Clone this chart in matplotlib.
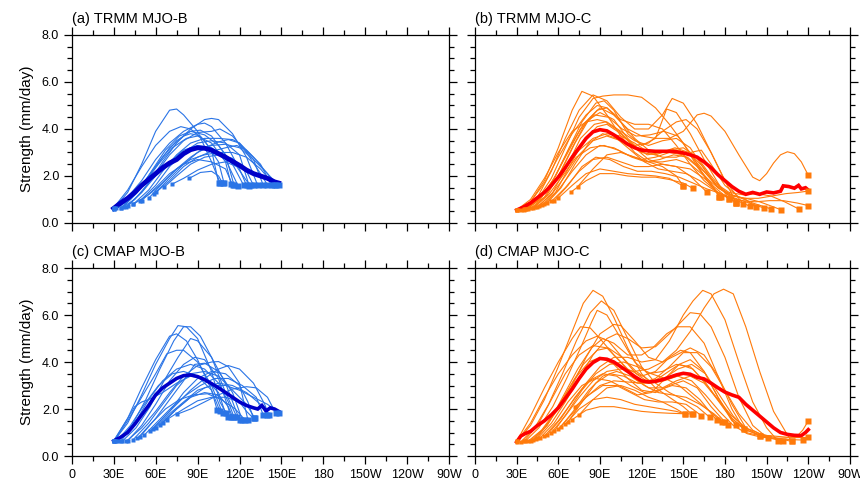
import matplotlib.pyplot as plt
import numpy as np

plt.rcParams['font.family'] = ['Liberation Sans', 'DejaVu Sans']

# longitude axis (degrees east of 0)
lon_ticks = [0, 30, 60, 90, 120, 150, 180, 210, 240, 270]
lon_labels = ['0', '30E', '60E', '90E', '120E', '150E', '180', '150W', '120W', '90W']
y_ticks = [0, 2, 4, 6, 8]
y_labels = ['0.0', '2.0', '4.0', '6.0', '8.0']

titles = ['(a) TRMM MJO-B', '(b) TRMM MJO-C', '(c) CMAP MJO-B', '(d) CMAP MJO-C']

# ---- composite means -------------------------------------------------------
trmm_b_mean_lon = [30, 35, 40, 45, 50, 55, 60, 65, 70, 75, 80, 85, 90, 95, 100, 105,
                   110, 115, 120, 125, 130, 135, 140, 145, 148]
trmm_b_mean = [0.62, 0.85, 1.05, 1.3, 1.6, 1.85, 2.1, 2.35, 2.55, 2.7, 2.95, 3.12, 3.2,
               3.18, 3.1, 2.95, 2.8, 2.62, 2.45, 2.25, 2.1, 2.0, 1.9, 1.75, 1.7]

trmm_c_mean_lon = [30, 35, 40, 45, 50, 55, 60, 65, 70, 75, 80, 85, 90, 95, 100, 105, 110,
                   115, 120, 125, 130, 135, 140, 145, 150, 155, 160, 165, 170, 175, 180,
                   185, 190, 195, 200, 205, 210, 215, 220, 222, 226, 230, 233, 235, 238, 240]
trmm_c_mean = [0.55, 0.68, 0.85, 1.08, 1.3, 1.6, 1.95, 2.35, 2.8, 3.2, 3.6, 3.88, 3.97,
               3.92, 3.75, 3.55, 3.35, 3.2, 3.1, 3.07, 3.05, 3.05, 3.05, 3.03, 2.98, 2.9,
               2.8, 2.6, 2.35, 2.05, 1.8, 1.55, 1.35, 1.22, 1.3, 1.22, 1.32, 1.28, 1.35,
               1.58, 1.55, 1.48, 1.6, 1.45, 1.5, 1.4]

cmap_b_mean_lon = [30, 35, 40, 45, 50, 55, 60, 65, 70, 75, 80, 85, 90, 95, 100, 105, 110,
                   115, 120, 125, 130, 133, 136, 139, 142, 145, 148]
cmap_b_mean = [0.64, 0.8, 1.0, 1.35, 1.75, 2.15, 2.6, 2.9, 3.1, 3.3, 3.42, 3.45, 3.38,
               3.25, 3.08, 2.9, 2.7, 2.5, 2.3, 2.15, 2.05, 2.0, 2.15, 1.92, 2.05, 2.0, 1.9]

cmap_c_mean_lon = [30, 33, 36, 40, 45, 50, 55, 60, 65, 70, 75, 80, 85, 90, 95, 100, 105,
                   110, 115, 120, 125, 130, 135, 140, 145, 150, 155, 160, 165, 170, 175,
                   180, 185, 190, 195, 200, 205, 210, 215, 220, 225, 230, 235, 238, 240]
cmap_c_mean = [0.6, 0.85, 0.95, 1.05, 1.3, 1.5, 1.75, 2.05, 2.45, 2.85, 3.3, 3.7, 3.98,
               4.15, 4.12, 4.0, 3.8, 3.6, 3.38, 3.2, 3.15, 3.18, 3.25, 3.35, 3.45, 3.52,
               3.48, 3.35, 3.28, 3.1, 2.9, 2.72, 2.6, 2.5, 2.2, 1.95, 1.7, 1.45, 1.2, 1.0,
               0.92, 0.88, 0.87, 1.0, 1.12]

# ---- individual events: (longitude, strength) along each track --------------
trmm_b_events = [
    [(30, 0.6), (40, 1.3), (50, 2.5), (60, 3.9), (70, 4.8), (75, 4.85), (80, 4.6), (90, 3.9), (100, 2.6), (106, 1.72)],
    [(30, 0.62), (40, 1.1), (50, 1.8), (60, 2.7), (70, 3.4), (80, 3.9), (90, 4.2), (95, 4.25), (100, 4.1), (110, 3.4), (120, 2.3), (125, 1.6)],
    [(35, 0.62), (45, 1.0), (55, 1.7), (65, 2.6), (75, 3.4), (85, 4.0), (95, 4.4), (100, 4.45), (105, 4.4), (115, 3.8), (125, 2.8), (133, 1.6)],
    [(30, 0.65), (40, 1.4), (50, 2.4), (60, 3.3), (70, 3.9), (78, 4.1), (85, 4.0), (95, 3.5), (105, 2.6), (109, 1.68)],
    [(39, 0.7), (50, 1.3), (60, 2.1), (70, 2.9), (80, 3.5), (90, 3.85), (100, 3.9), (106, 4.0), (115, 3.7), (125, 3.0), (135, 2.1), (140, 1.62)],
    [(44, 0.8), (55, 1.4), (65, 2.2), (75, 2.9), (85, 3.4), (95, 3.6), (105, 3.6), (115, 3.55), (120, 3.4), (130, 2.8), (140, 2.1), (146, 1.6)],
    [(49, 0.95), (60, 1.6), (70, 2.4), (80, 3.0), (90, 3.4), (100, 3.5), (110, 3.4), (120, 2.9), (127, 1.57)],
    [(59, 1.24), (70, 1.8), (80, 2.4), (90, 2.8), (100, 3.05), (110, 3.2), (118, 3.3), (125, 3.1), (135, 2.5), (143, 1.6)],
    [(66, 1.52), (75, 2.0), (85, 2.5), (95, 2.8), (105, 2.9), (115, 2.75), (125, 2.2), (130, 1.6)],
    [(72, 1.66), (80, 1.9), (90, 2.25), (100, 2.5), (110, 2.6), (118, 2.4), (125, 1.8), (128, 1.6)],
    [(84, 1.9), (92, 2.15), (100, 2.2), (105, 2.0), (108, 1.68)],
    [(35, 0.62), (45, 1.2), (55, 2.0), (65, 2.8), (75, 3.5), (85, 3.9), (92, 3.95), (100, 3.7), (110, 2.9), (116, 1.62)],
    [(40, 0.72), (50, 1.3), (60, 2.0), (70, 2.6), (80, 3.1), (90, 3.3), (100, 3.2), (110, 2.7), (119, 1.58)],
    [(30, 0.6), (40, 1.0), (50, 1.6), (60, 2.4), (70, 3.2), (80, 3.7), (85, 3.8), (92, 3.7), (100, 3.1), (105, 1.72)],
    [(44, 0.8), (55, 1.2), (65, 1.7), (75, 2.3), (85, 2.7), (95, 2.9), (105, 3.0), (115, 3.0), (125, 2.8), (135, 2.3), (145, 1.6)],
    [(50, 0.95), (60, 1.5), (70, 2.1), (80, 2.5), (90, 2.7), (100, 2.6), (110, 2.3), (115, 1.62)],
    [(37, 0.7), (47, 1.3), (57, 2.2), (67, 3.1), (77, 3.7), (85, 3.9), (95, 3.75), (105, 3.3), (115, 2.5), (123, 1.6)],
    [(55, 1.05), (65, 1.7), (75, 2.3), (85, 2.8), (95, 3.2), (105, 3.45), (112, 3.55), (120, 3.4), (130, 2.7), (137, 1.6)],
    [(60, 1.3), (70, 1.9), (80, 2.5), (90, 3.0), (100, 3.3), (110, 3.35), (120, 3.2), (130, 2.7), (140, 2.1), (148, 1.6)],
    [(32, 0.62), (42, 1.0), (52, 1.7), (62, 2.5), (72, 3.2), (82, 3.6), (90, 3.7), (100, 3.4), (110, 2.6), (114, 1.65)],
]

trmm_c_events = [
    [(30, 0.55), (40, 0.9), (50, 1.8), (60, 3.2), (70, 4.8), (77, 5.6), (85, 5.4), (95, 4.6), (105, 3.7), (115, 3.0), (125, 2.6), (135, 2.4), (145, 2.0), (150, 1.57)],
    [(33, 0.55), (45, 1.0), (55, 1.9), (65, 3.2), (75, 4.5), (85, 5.3), (92, 5.4), (100, 5.45), (110, 5.45), (120, 5.35), (130, 4.9), (140, 4.2), (150, 3.4), (160, 2.4), (170, 1.6), (177, 1.12)],
    [(35, 0.58), (45, 1.1), (55, 2.2), (65, 3.6), (75, 4.8), (85, 5.45), (95, 5.2), (105, 4.5), (115, 4.0), (125, 4.0), (135, 4.6), (142, 5.3), (150, 5.1), (160, 4.2), (170, 3.0), (180, 1.8), (188, 0.87)],
    [(37, 0.6), (47, 1.0), (57, 1.9), (67, 3.1), (77, 4.3), (87, 5.1), (93, 5.2), (100, 4.8), (110, 3.8), (120, 3.3), (130, 3.6), (138, 4.85), (145, 4.7), (155, 3.8), (165, 2.7), (175, 1.7), (183, 1.02)],
    [(40, 0.62), (50, 1.1), (60, 2.0), (70, 3.2), (80, 4.3), (90, 4.9), (100, 4.6), (110, 4.0), (120, 3.7), (130, 3.6), (140, 3.6), (150, 3.9), (160, 4.6), (165, 4.67), (170, 4.55), (180, 3.9), (190, 2.9), (200, 1.95), (205, 1.8), (210, 2.1), (215, 2.55), (220, 2.9), (225, 3.03), (230, 2.95), (235, 2.6), (240, 2.03)],
    [(42, 0.65), (52, 1.2), (62, 2.2), (72, 3.4), (82, 4.4), (90, 4.7), (100, 4.4), (110, 3.6), (120, 3.0), (130, 2.9), (140, 3.1), (150, 3.2), (160, 2.8), (170, 2.0), (180, 1.3), (188, 0.87)],
    [(45, 0.7), (55, 1.2), (65, 2.0), (75, 2.9), (85, 3.5), (95, 3.7), (105, 3.5), (115, 3.3), (125, 3.4), (135, 3.9), (145, 4.3), (152, 4.4), (160, 4.0), (170, 3.0), (180, 1.8), (193, 0.82)],
    [(48, 0.75), (58, 1.3), (68, 2.4), (78, 3.5), (88, 4.1), (95, 4.2), (105, 3.8), (115, 3.2), (125, 2.7), (135, 2.5), (145, 2.4), (155, 2.3), (165, 1.9), (175, 1.4), (183, 1.02)],
    [(50, 0.8), (60, 1.4), (70, 2.2), (80, 2.9), (90, 3.3), (100, 3.2), (110, 2.9), (120, 2.7), (130, 2.8), (140, 3.0), (150, 2.9), (160, 2.4), (170, 1.7), (176, 1.12)],
    [(55, 0.92), (65, 1.5), (75, 2.2), (85, 2.7), (95, 2.8), (105, 2.6), (115, 2.4), (125, 2.4), (135, 2.5), (145, 2.4), (155, 2.0), (167, 1.31)],
    [(60, 1.06), (70, 1.6), (80, 2.1), (90, 2.3), (100, 2.2), (110, 2.1), (120, 2.05), (130, 2.0), (140, 1.9), (150, 1.57)],
    [(69, 1.31), (80, 1.8), (90, 2.1), (100, 2.1), (110, 2.0), (120, 1.95), (130, 1.95), (140, 1.85), (150, 1.7), (157, 1.47)],
    [(74, 1.55), (85, 2.3), (95, 2.9), (105, 3.0), (115, 2.8), (125, 2.6), (135, 2.6), (145, 2.7), (155, 2.5), (165, 2.0), (175, 1.5), (185, 1.2), (195, 1.0), (202, 0.67)],
    [(30, 0.55), (40, 1.0), (50, 1.9), (60, 3.0), (70, 3.9), (80, 4.3), (88, 4.4), (95, 4.3), (105, 3.9), (115, 3.5), (125, 3.3), (135, 3.5), (145, 3.6), (155, 3.2), (165, 2.3), (175, 1.5), (185, 1.1), (195, 0.9), (208, 0.64)],
    [(35, 0.55), (45, 0.95), (55, 1.6), (65, 2.4), (75, 3.1), (85, 3.6), (95, 3.8), (105, 3.7), (115, 3.4), (125, 3.0), (135, 2.8), (145, 2.8), (155, 3.0), (163, 3.1), (170, 2.5), (180, 1.6), (190, 1.1), (200, 0.85), (213, 0.6)],
    [(38, 0.6), (48, 1.1), (58, 2.0), (68, 3.2), (78, 4.2), (88, 4.8), (95, 4.9), (105, 4.3), (115, 3.6), (125, 3.1), (135, 3.0), (145, 3.1), (155, 2.9), (165, 2.2), (175, 1.5), (185, 1.15), (195, 1.05), (205, 0.9), (212, 0.75), (220, 0.57)],
    [(43, 0.68), (53, 1.2), (63, 2.0), (73, 2.8), (83, 3.2), (93, 3.3), (103, 3.1), (113, 2.8), (123, 2.6), (133, 2.7), (143, 2.9), (153, 2.8), (163, 2.3), (173, 1.7), (183, 1.3), (193, 1.2), (203, 1.25), (213, 1.15), (223, 0.9), (233, 0.6)],
    [(46, 0.72), (56, 1.3), (66, 2.4), (76, 3.6), (86, 4.2), (94, 4.3), (104, 3.9), (114, 3.3), (124, 2.9), (134, 3.0), (144, 3.2), (154, 3.0), (164, 2.4), (174, 1.6), (184, 1.2), (194, 1.05), (204, 1.05), (214, 1.15), (224, 1.25), (233, 1.3), (240, 1.36)],
    [(52, 0.85), (62, 1.5), (72, 2.5), (82, 3.4), (92, 3.8), (102, 3.6), (112, 3.1), (122, 2.6), (132, 2.3), (142, 2.2), (152, 2.1), (162, 1.8), (172, 1.4), (182, 1.1), (192, 0.95), (202, 0.9), (212, 0.95), (222, 0.95), (232, 0.85), (240, 0.74)],
    [(57, 0.95), (67, 1.6), (77, 2.4), (87, 2.8), (97, 2.7), (107, 2.4), (117, 2.2), (127, 2.2), (137, 2.1), (147, 1.95), (157, 1.7), (167, 1.45), (177, 1.25), (187, 1.0), (198, 0.71)],
    [(30, 0.55), (40, 0.9), (50, 1.7), (60, 2.8), (70, 3.8), (80, 4.6), (88, 5.0), (95, 4.9), (105, 4.4), (115, 4.2), (125, 4.2), (135, 4.0), (145, 3.3), (155, 2.5), (165, 1.8), (175, 1.3), (188, 0.87)],
    [(36, 0.58), (46, 1.0), (56, 1.8), (66, 2.9), (76, 4.0), (86, 4.6), (96, 4.5), (106, 4.0), (116, 3.7), (126, 3.75), (136, 3.9), (146, 3.7), (156, 2.9), (166, 1.9), (176, 1.12)],
]

cmap_b_events = [
    [(30, 0.62), (40, 1.4), (50, 2.6), (60, 3.9), (70, 5.0), (76, 5.55), (82, 5.5), (90, 5.0), (100, 3.6), (106, 2.3), (112, 1.67)],
    [(33, 0.62), (43, 1.3), (53, 2.4), (63, 3.7), (73, 4.9), (80, 5.5), (85, 5.5), (92, 5.1), (100, 4.2), (110, 2.7), (118, 1.67)],
    [(30, 0.65), (40, 1.6), (50, 2.9), (60, 4.1), (70, 5.1), (75, 5.2), (82, 4.9), (90, 4.1), (100, 2.8), (104, 1.96)],
    [(36, 0.62), (46, 1.2), (56, 2.1), (66, 3.2), (76, 4.2), (85, 5.0), (90, 4.9), (100, 4.2), (110, 3.1), (120, 1.53)],
    [(30, 0.62), (40, 1.5), (50, 2.5), (60, 3.5), (68, 4.35), (75, 4.5), (80, 4.5), (90, 4.0), (100, 3.0), (108, 1.81)],
    [(39, 0.62), (50, 1.2), (60, 1.9), (70, 2.7), (80, 3.4), (90, 3.85), (100, 4.0), (105, 4.02), (112, 3.8), (120, 3.1), (126, 1.53)],
    [(49, 0.83), (60, 1.6), (70, 2.4), (80, 3.2), (88, 3.9), (95, 3.95), (105, 3.6), (115, 2.7), (122, 1.53)],
    [(56, 1.05), (65, 1.6), (75, 2.2), (85, 2.8), (95, 3.3), (105, 3.7), (112, 3.85), (120, 3.7), (130, 3.1), (138, 2.2), (141, 1.74)],
    [(63, 1.33), (75, 2.0), (85, 2.5), (95, 2.7), (105, 2.6), (112, 2.1), (115, 1.67)],
    [(68, 1.55), (80, 2.0), (90, 2.35), (100, 2.5), (110, 2.5), (120, 2.3), (125, 1.9), (130, 1.6)],
    [(75, 1.77), (85, 2.0), (95, 2.3), (105, 2.6), (115, 2.85), (125, 2.95), (132, 2.9), (140, 2.5), (146, 1.81)],
    [(30, 0.62), (40, 1.6), (45, 2.1), (50, 2.3), (55, 2.4), (65, 2.7), (75, 3.1), (85, 3.4), (95, 3.3), (105, 2.7), (110, 1.81)],
    [(35, 0.62), (45, 1.4), (55, 2.4), (65, 3.2), (75, 3.7), (85, 3.9), (95, 3.7), (105, 3.1), (112, 2.3), (116, 1.67)],
    [(44, 0.7), (55, 1.4), (65, 2.2), (75, 3.0), (85, 3.5), (95, 3.6), (105, 3.4), (115, 2.8), (125, 2.2), (131, 1.6)],
    [(52, 0.9), (62, 1.5), (72, 2.1), (82, 2.6), (92, 3.0), (102, 3.3), (112, 3.3), (122, 3.0), (132, 2.5), (137, 1.74)],
    [(60, 1.2), (70, 1.8), (80, 2.3), (90, 2.8), (100, 3.0), (110, 3.0), (120, 2.8), (130, 2.5), (140, 2.2), (148, 1.85)],
    [(40, 0.65), (50, 1.3), (60, 2.2), (70, 3.2), (80, 3.9), (88, 4.2), (95, 4.1), (105, 3.3), (114, 1.67)],
    [(32, 0.62), (42, 1.3), (52, 2.2), (62, 3.0), (72, 3.5), (80, 3.6), (90, 3.4), (100, 2.8), (106, 1.9)],
    [(47, 0.75), (57, 1.4), (67, 2.0), (77, 2.4), (87, 2.6), (97, 2.65), (107, 2.4), (117, 2.0), (124, 1.53)],
    [(58, 1.15), (70, 1.9), (80, 2.7), (90, 3.3), (100, 3.6), (110, 3.5), (120, 3.0), (126, 2.3), (130, 1.6)],
    [(65, 1.4), (75, 2.0), (85, 2.5), (95, 2.9), (105, 3.1), (115, 3.0), (125, 2.7), (135, 2.2), (140, 1.74)],
]

cmap_c_events = [
    [(30, 0.6), (40, 1.3), (50, 2.4), (60, 3.8), (70, 5.3), (78, 6.5), (85, 7.05), (92, 6.8), (100, 5.9), (110, 4.6), (120, 3.5), (130, 2.9), (140, 2.5), (150, 2.1), (156, 1.79)],
    [(33, 0.6), (43, 1.2), (53, 2.2), (63, 3.5), (73, 4.9), (83, 6.1), (91, 6.6), (100, 6.2), (110, 5.0), (120, 3.8), (130, 3.1), (140, 2.7), (150, 2.4), (160, 2.1), (169, 1.65)],
    [(36, 0.62), (46, 1.2), (56, 2.1), (66, 3.3), (76, 4.6), (84, 5.7), (88, 6.2), (95, 6.0), (105, 5.0), (115, 4.0), (125, 3.5), (135, 3.6), (145, 3.9), (155, 3.8), (165, 3.2), (175, 2.4), (185, 1.6), (194, 1.15)],
    [(30, 0.62), (40, 1.7), (50, 2.9), (60, 4.0), (70, 5.0), (76, 5.5), (83, 5.45), (90, 5.0), (100, 4.3), (110, 3.7), (120, 3.4), (130, 3.6), (140, 4.2), (148, 4.5), (155, 4.4), (165, 3.6), (175, 2.5), (185, 1.5), (194, 1.15)],
    [(40, 0.65), (50, 1.2), (60, 2.0), (70, 3.0), (80, 4.2), (90, 5.2), (100, 5.6), (105, 5.55), (115, 4.9), (125, 4.2), (135, 4.0), (145, 4.3), (155, 4.6), (165, 4.3), (175, 3.4), (185, 2.2), (195, 1.2), (205, 0.87)],
    [(45, 0.75), (55, 1.4), (65, 2.3), (75, 3.3), (85, 4.3), (95, 5.0), (102, 5.2), (110, 5.0), (120, 4.6), (130, 4.65), (140, 5.2), (150, 5.8), (155, 6.1), (162, 6.05), (170, 5.5), (180, 4.2), (190, 2.5), (200, 1.3), (211, 0.75)],
    [(50, 0.85), (60, 1.5), (70, 2.3), (80, 3.1), (90, 3.8), (100, 4.2), (110, 4.2), (120, 4.0), (130, 4.1), (140, 4.9), (150, 6.0), (157, 6.6), (164, 7.05), (170, 6.9), (180, 5.8), (190, 4.0), (200, 2.3), (210, 1.2), (218, 0.65)],
    [(55, 1.0), (65, 1.7), (75, 2.5), (85, 3.2), (95, 3.6), (105, 3.7), (115, 3.6), (125, 3.7), (135, 4.0), (145, 4.5), (155, 5.3), (165, 6.3), (172, 6.9), (179, 7.1), (186, 6.9), (195, 5.5), (205, 3.6), (215, 1.9), (225, 0.9), (228, 0.62)],
    [(60, 1.15), (70, 1.8), (80, 2.5), (90, 3.0), (100, 3.2), (110, 3.15), (120, 3.1), (130, 3.3), (140, 3.8), (150, 4.4), (160, 4.4), (170, 3.8), (180, 2.8), (190, 1.8), (200, 1.1), (210, 0.8), (222, 0.62)],
    [(65, 1.35), (75, 2.0), (85, 2.4), (95, 2.5), (105, 2.4), (115, 2.2), (125, 2.1), (135, 2.0), (145, 1.9), (151, 1.79)],
    [(70, 1.55), (80, 1.95), (90, 2.1), (100, 2.1), (110, 2.0), (120, 1.9), (130, 1.85), (140, 1.82), (150, 1.8), (157, 1.79)],
    [(72, 2.1), (82, 2.6), (92, 3.0), (102, 3.0), (112, 2.7), (122, 2.4), (132, 2.3), (142, 2.3), (152, 2.2), (163, 1.72)],
    [(35, 0.62), (45, 1.3), (55, 2.4), (65, 3.5), (75, 4.3), (85, 4.7), (95, 4.6), (105, 4.0), (115, 3.3), (125, 2.9), (135, 2.9), (145, 3.2), (155, 3.4), (165, 3.1), (175, 2.4), (185, 1.7), (195, 1.2), (205, 0.95), (215, 0.8), (228, 0.62)],
    [(38, 0.62), (48, 1.1), (58, 1.9), (68, 2.9), (78, 3.9), (88, 4.5), (96, 4.6), (106, 4.2), (116, 3.6), (126, 3.2), (136, 3.3), (146, 3.7), (156, 3.9), (166, 3.5), (176, 2.6), (186, 1.7), (196, 1.1), (206, 0.85), (216, 0.75), (226, 0.7), (236, 0.68)],
    [(42, 0.7), (52, 1.3), (62, 2.3), (72, 3.3), (82, 4.0), (90, 4.2), (100, 3.9), (110, 3.3), (120, 2.8), (130, 2.7), (140, 3.0), (150, 3.2), (160, 2.9), (170, 2.1), (180, 1.45)],
    [(47, 0.78), (57, 1.4), (67, 2.3), (77, 3.0), (87, 3.3), (97, 3.2), (107, 2.9), (117, 2.6), (127, 2.7), (137, 3.3), (147, 3.9), (155, 4.1), (165, 3.6), (175, 2.5), (185, 1.6), (195, 1.1), (205, 0.9), (215, 0.85), (225, 0.8), (232, 0.85), (236, 1.1), (240, 1.49)],
    [(52, 0.9), (62, 1.6), (72, 2.5), (82, 3.2), (92, 3.5), (102, 3.4), (112, 3.0), (122, 2.7), (132, 2.8), (142, 3.0), (152, 2.9), (162, 2.4), (174, 1.53)],
    [(57, 1.05), (67, 1.9), (77, 2.8), (87, 3.5), (97, 3.9), (107, 4.0), (117, 3.8), (127, 3.5), (137, 3.3), (147, 3.0), (157, 2.5), (167, 2.0), (178, 1.45)],
    [(62, 1.25), (72, 2.0), (82, 2.8), (92, 3.4), (102, 3.6), (112, 3.4), (122, 3.0), (132, 2.7), (142, 2.6), (152, 2.5), (162, 2.2), (172, 1.8), (182, 1.3)],
    [(67, 1.45), (77, 2.3), (87, 3.1), (97, 3.5), (107, 3.4), (117, 3.1), (127, 3.1), (137, 3.5), (147, 3.9), (157, 3.7), (167, 3.0), (177, 2.2), (188, 1.3)],
    [(30, 0.62), (40, 1.4), (50, 2.5), (60, 3.5), (70, 4.3), (80, 4.9), (88, 5.1), (96, 4.9), (106, 4.2), (116, 3.5), (126, 3.1), (136, 3.2), (146, 3.4), (156, 3.2), (166, 2.6), (176, 1.9), (186, 1.3), (196, 0.95), (206, 0.8), (216, 0.75), (226, 0.78), (240, 0.79)],
    [(44, 0.72), (54, 1.5), (64, 2.6), (74, 3.7), (84, 4.6), (92, 5.0), (100, 4.8), (110, 4.3), (120, 4.3), (128, 4.6), (138, 5.2), (146, 5.5), (155, 5.5), (165, 4.8), (175, 3.4), (185, 2.0), (195, 1.0), (205, 0.87)],
    [(75, 1.75), (85, 2.4), (95, 2.9), (105, 3.0), (115, 2.8), (125, 2.5), (135, 2.3), (145, 2.0), (151, 1.79)],
]

blue_thin, blue_mean = '#2a74e6', '#0000c8'
orange_thin, red_mean = '#ff7a0a', '#ff0000'

panels = [
    (trmm_b_events, trmm_b_mean_lon, trmm_b_mean, blue_thin, blue_mean, 3.5),
    (trmm_c_events, trmm_c_mean_lon, trmm_c_mean, orange_thin, red_mean, 2.6),
    (cmap_b_events, cmap_b_mean_lon, cmap_b_mean, blue_thin, blue_mean, 2.6),
    (cmap_c_events, cmap_c_mean_lon, cmap_c_mean, orange_thin, red_mean, 2.6),
]

# axes boxes in figure fractions: [left, bottom, width, height]
boxes = [
    [0.0834, 0.5412, 0.4390, 0.3868],
    [0.5523, 0.5412, 0.4360, 0.3868],
    [0.0834, 0.0617, 0.4390, 0.3868],
    [0.5523, 0.0617, 0.4360, 0.3868],
]

fig = plt.figure(figsize=(8.6, 4.86), dpi=100)

for i, (events, mlon, mval, c_thin, c_mean, mlw) in enumerate(panels):
    ax = fig.add_axes(boxes[i])
    for ev in events:
        lo = [p[0] for p in ev]
        va = [p[1] for p in ev]
        ax.plot(lo, va, color=c_thin, lw=0.8, zorder=2)
    ax.plot(mlon, mval, color=c_mean, lw=mlw, zorder=3, solid_joinstyle='miter')
    for ev in events:
        ax.plot(ev[0][0], ev[0][1], 's', color=c_thin, ms=3.0, mec='none', zorder=4)
        ax.plot(ev[-1][0], ev[-1][1], 's', color=c_thin, ms=4.8, mec='none', zorder=4)

    ax.set_xlim(0, 270)
    ax.set_ylim(0, 8)
    ax.set_xticks(lon_ticks)
    ax.set_xticks(np.arange(15, 270, 30), minor=True)
    ax.set_yticks(y_ticks)
    ax.set_yticks([v for v in np.arange(0.5, 8, 0.5) if v % 2], minor=True)
    ax.tick_params(which='both', direction='out', top=True, right=True,
                   width=0.9, labelsize=9, pad=3)
    ax.tick_params(which='major', length=6)
    ax.tick_params(which='minor', length=3.5)
    for s in ax.spines.values():
        s.set_linewidth(0.9)

    if i >= 2:
        ax.set_xticklabels(lon_labels)
    else:
        ax.set_xticklabels([])
    if i % 2 == 0:
        ax.set_yticklabels(y_labels)
        ax.set_ylabel('Strength (mm/day)', fontsize=11, labelpad=6)
    else:
        ax.set_yticklabels([])

    ax.text(0.0, 1.05, titles[i], transform=ax.transAxes, fontsize=10.5,
            ha='left', va='bottom')

fig.savefig('out.png', dpi=100)
